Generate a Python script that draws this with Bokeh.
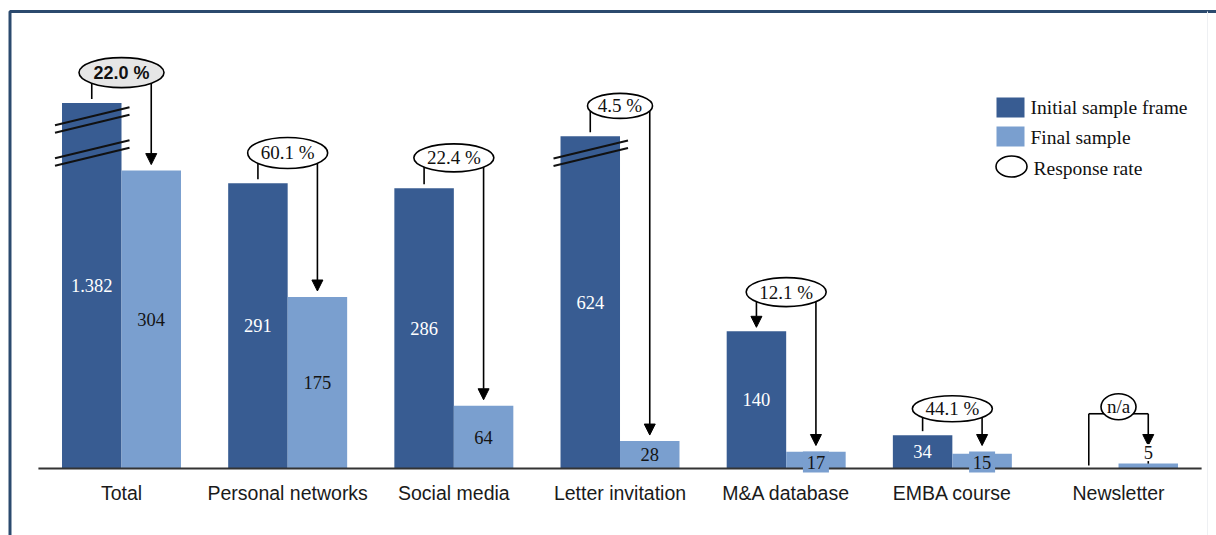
from bokeh.plotting import figure
from bokeh.models import ColumnDataSource, Arrow, NormalHead
from bokeh.core.properties import value
from bokeh.embed import file_html
from bokeh.resources import INLINE

# ---------------- data ----------------
categories = ["Total", "Personal networks", "Social media", "Letter invitation",
              "M&A database", "EMBA course", "Newsletter"]
initial_sample = [1382, 291, 286, 624, 140, 34, None]
final_sample = [304, 175, 64, 28, 17, 15, 5]
response_rate = [22.0, 60.1, 22.4, 4.5, 12.1, 44.1, None]
initial_labels = ["1.382", "291", "286", "624", "140", "34", ""]
# bars cut by an axis break are drawn only up to this height
break_height = [373, None, None, 339, None, None, None]

# ---------------- layout / style ----------------
W, H = 1216, 535
PX_PER_CAT = 166.17
PX_PER_UNIT = 0.98
BASE_PX = 468
FIRST_PX = 121
HALF = 0.179
BAR_W = 0.358
DARK = "#385C92"
LIGHT = "#7A9FCF"
SERIF = "Liberation Serif"
SANS = "Liberation Sans"

x_start = -FIRST_PX / PX_PER_CAT
x_end = x_start + W / PX_PER_CAT
y_end = BASE_PX / PX_PER_UNIT
y_start = -(H - BASE_PX) / PX_PER_UNIT


def dx(px):
    return px / PX_PER_CAT


def dy(px):
    return px / PX_PER_UNIT


def X(px):
    return x_start + px / PX_PER_CAT


def Y(px):
    return y_end - px / PX_PER_UNIT


# bubble (response-rate ellipse) placement
bubble_y = [404, 322, 317, 370, 180, 61, 63]
bubble_w = [85, 80, 80, 65, 80, 80, 35]
bubble_h = [30, 31, 28, 25, 29, 26, 26]
connector = ["bracket", "bracket", "bracket", "bracket", "down", "bracket", "elbow"]
break_marks = [[17, 50], [], [], [17], [], [], []]

n = len(categories)
idx = list(range(n))
dark_x = [i - HALF for i in idx]
light_x = [i + HALF for i in idx]
dark_h = [0 if v is None else (b if b is not None else v)
          for v, b in zip(initial_sample, break_height)]
light_h = list(final_sample)

p = figure(width=W, height=H, x_range=(x_start, x_end), y_range=(y_start, y_end),
           output_backend="svg", toolbar_location=None,
           x_axis_location=None, y_axis_location=None,
           min_border=0, min_border_left=0, min_border_right=0,
           min_border_top=0, min_border_bottom=0,
           outline_line_color=None, background_fill_color="white",
           border_fill_color="white")
p.grid.visible = False

# outer frame
p.line(x=[X(9.5), X(9.5), X(1400)], y=[Y(700), Y(11), Y(11)],
       line_color="#2b4a6e", line_width=3)
p.line(x=[X(1207), X(1207)], y=[Y(11), Y(700)], line_color="#eef0f3", line_width=1)

# bars
p.vbar(x=dark_x, top=dark_h, width=BAR_W, bottom=0, fill_color=DARK, line_color=None)
p.vbar(x=light_x, top=light_h, width=BAR_W, bottom=0, fill_color=LIGHT, line_color=None)

# axis break marks
bx0, bx1, by0, by1 = [], [], [], []
for i in idx:
    for off in break_marks[i]:
        for d in (-3.7, 3.7):
            yc = dark_h[i] - dy(off + d)
            bx0.append(dark_x[i] - BAR_W / 2 - dx(7))
            bx1.append(dark_x[i] + BAR_W / 2 + dx(8))
            by0.append(yc - dy(9))
            by1.append(yc + dy(9))
p.segment(x0=bx0, y0=by0, x1=bx1, y1=by1, line_color="#111111", line_width=2)

# baseline
p.segment(x0=[-0.5], y0=[0], x1=[n - 0.5], y1=[0], line_color="#333333", line_width=1.8)

# connectors
seg_x0, seg_y0, seg_x1, seg_y1 = [], [], [], []
arr = dict(xs=[], ys=[], xe=[], ye=[])


def add_arrow(x0, y0, x1, y1):
    arr["xs"].append(x0)
    arr["ys"].append(y0)
    arr["xe"].append(x1)
    arr["ye"].append(y1)


for i in idx:
    kind = connector[i]
    by = bubble_y[i]
    h_px = light_h[i] * PX_PER_UNIT
    tip = light_h[i] + dy(6) if h_px >= 25 else dy(23)
    if kind == "bracket":
        seg_x0.append(dark_x[i]); seg_y0.append(by)
        seg_x1.append(dark_x[i]); seg_y1.append(dark_h[i] + dy(4))
        add_arrow(light_x[i], by, light_x[i], tip)
    elif kind == "down":
        add_arrow(dark_x[i], by, dark_x[i], dark_h[i] + dy(4))
        add_arrow(light_x[i], by, light_x[i], tip)
    else:  # elbow
        ey = by - dy(7)
        seg_x0 += [dark_x[i], dark_x[i], i]
        seg_y0 += [dy(3), ey, ey]
        seg_x1 += [dark_x[i], i, light_x[i]]
        seg_y1 += [ey, ey, ey]
        add_arrow(light_x[i], ey, light_x[i], tip)
        seg_x0.append(light_x[i]); seg_y0.append(tip); seg_x1.append(light_x[i]); seg_y1.append(light_h[i])

p.segment(x0=seg_x0, y0=seg_y0, x1=seg_x1, y1=seg_y1, line_color="black", line_width=1.6)
p.add_layout(Arrow(end=NormalHead(size=11, fill_color="black", line_color="black", line_width=1),
                   x_start="xs", y_start="ys", x_end="xe", y_end="ye",
                   source=ColumnDataSource(arr), line_color="black", line_width=1.6))

# value labels
plain = dict(x=[], y=[], t=[], c=[])
boxed = dict(x=[], y=[], t=[])
white_boxed = dict(x=[], y=[], t=[])
for i in idx:
    if initial_labels[i]:
        plain["x"].append(dark_x[i]); plain["y"].append(dark_h[i] / 2)
        plain["t"].append(initial_labels[i]); plain["c"].append("white")
    h_px = light_h[i] * PX_PER_UNIT
    lab = str(final_sample[i])
    if h_px >= 25:
        plain["x"].append(light_x[i]); plain["y"].append(light_h[i] / 2)
        plain["t"].append(lab); plain["c"].append("#141414")
    elif h_px >= 10:
        boxed["x"].append(light_x[i]); boxed["y"].append(dy(6.5)); boxed["t"].append(lab)
    else:
        white_boxed["x"].append(light_x[i]); white_boxed["y"].append(light_h[i] + dy(11))
        white_boxed["t"].append(lab)

p.text(x="x", y="y", text="t", source=ColumnDataSource(plain), text_color="c",
       text_font=value(SERIF), text_font_size="18.5px", text_align="center",
       text_baseline="middle")
# label boxes for the small bars
p.rect(x="x", y="y", width=26, height=21, width_units="screen", height_units="screen",
       source=ColumnDataSource(boxed), fill_color=LIGHT, line_color=None, level="overlay")
p.rect(x="x", y="y", width=13, height=17, width_units="screen", height_units="screen",
       source=ColumnDataSource(white_boxed), fill_color="white", line_color=None, level="overlay")
p.text(x="x", y="y", text="t", source=ColumnDataSource(boxed), text_color="#141414",
       text_font=value(SERIF), text_font_size="18.5px", text_align="center",
       text_baseline="middle", level="overlay")
p.text(x="x", y="y", text="t", source=ColumnDataSource(white_boxed), text_color="#141414",
       text_font=value(SERIF), text_font_size="18.5px", text_align="center",
       text_baseline="middle", level="overlay")

# response-rate bubbles
rate_txt = [("%.1f %%" % r) if r is not None else "n/a" for r in response_rate]
fills = ["#e6e6e6"] + ["white"] * (n - 1)
p.ellipse(x=idx, y=bubble_y, width=bubble_w, height=bubble_h,
          width_units="screen", height_units="screen",
          fill_color=fills, line_color="black", line_width=1.6, level="overlay")
p.text(x=idx[:1], y=bubble_y[:1], text=rate_txt[:1], text_font=value(SANS),
       text_font_style="bold", text_font_size="18px", text_align="center",
       text_baseline="middle", text_color="#111111", level="overlay")
p.text(x=idx[1:], y=bubble_y[1:], text=rate_txt[1:], text_font=value(SERIF),
       text_font_size="19px", text_align="center", text_baseline="middle",
       text_color="#111111", level="overlay")

# category labels
p.text(x=idx, y=[-dy(24)] * n, text=categories, text_font=value(SANS),
       text_font_size="19.5px", text_align="center", text_baseline="middle",
       text_color="#1a1a1a")

# legend (drawn manually)
p.rect(x=[X(1010), X(1010)], y=[Y(107), Y(136)], width=28, height=20,
       width_units="screen", height_units="screen", fill_color=[DARK, LIGHT], line_color=None)
p.ellipse(x=[X(1011)], y=[Y(166)], width=31, height=21, width_units="screen",
          height_units="screen", fill_color="white", line_color="black", line_width=1.6)
p.text(x=[X(1030), X(1030), X(1033)], y=[Y(107), Y(137), Y(168)],
       text=["Initial sample frame", "Final sample", "Response rate"],
       text_font=value(SERIF), text_font_size="19.5px", text_align="left",
       text_baseline="middle", text_color="#111111")

open("out.html", "w").write(file_html(p, INLINE))
